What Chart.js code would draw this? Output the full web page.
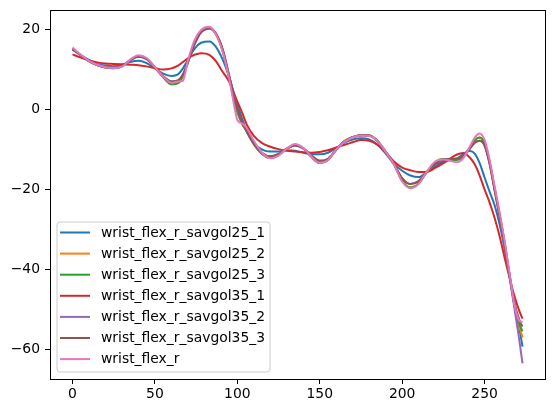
<!DOCTYPE html>
<html>
<head>
<meta charset="utf-8">
<script src="https://cdn.jsdelivr.net/npm/chart.js@4.4.1/dist/chart.umd.min.js"></script>
<style>
  html, body { margin: 0; padding: 0; background: #fff; }
  #wrap { width: 554px; height: 413px; position: relative; }
</style>
</head>
<body>
<div id="wrap"><canvas id="myChart"></canvas></div>
<script>
// sample positions (frame index)
const frames = [0, 5, 10, 15, 20, 25, 30, 35, 40, 45, 50, 55, 60, 64, 67, 70, 74, 78, 83, 87, 91, 95, 98, 100, 103, 106,
  110, 115, 120, 125, 130, 135, 140, 145, 150, 155, 160, 165, 170, 175, 180, 185, 190, 195, 200, 205, 210, 215, 220,
  225, 230, 233, 237, 241, 244, 247, 250, 253, 256, 259, 262, 265, 268, 271, 273];

const savgol25_1 = [15.0, 13.6, 12.4, 11.4, 11.0, 10.8, 11.2, 11.9, 12.2, 11.6, 10.3, 9.0, 8.4, 8.8, 10.3, 12.4, 15.2, 16.7, 17.0, 15.7, 12.6, 8.2, 4.0, 1.2, -2.4, -5.8,
  -8.4, -10.0, -10.5, -10.5, -10.2, -10.3, -10.8, -11.2, -11.2, -10.8, -9.6, -8.3, -7.5, -7.2, -7.5, -8.8, -11.0, -13.6, -15.3, -16.5, -16.9, -15.6, -14.2,
  -13.0, -12.6, -12.3, -11.2, -10.4, -11.0, -13.4, -17.0, -20.5, -23.8, -28.5, -34.5, -41.5, -48.5, -54.5, -59.3];

const savgol25_2 = [15.2, 13.6, 12.1, 11.1, 10.5, 10.3, 10.8, 12.4, 13.4, 12.7, 10.5, 8.1, 6.3, 6.6, 8.4, 11.8, 16.8, 19.6, 20.5, 18.9, 14.8, 8.0, 2.5, -0.6, -3.6, -5.6,
  -8.6, -11.1, -12.1, -11.4, -9.8, -8.8, -9.7, -11.9, -13.4, -12.6, -10.0, -7.9, -6.9, -6.4, -6.5, -7.8, -10.6, -13.7, -17.8, -19.5, -18.5, -15.6, -13.2,
  -12.4, -12.5, -12.6, -11.8, -9.6, -7.7, -7.0, -8.4, -13.0, -19.5, -26.0, -33.0, -41.0, -48.8, -54.0, -57.0];

const savgol25_3 = [15.3, 13.6, 12.1, 11.1, 10.5, 10.3, 10.8, 12.4, 13.4, 12.7, 10.5, 8.1, 6.3, 6.6, 8.4, 11.8, 16.8, 19.6, 20.5, 18.9, 14.8, 8.0, 2.5, -0.6, -3.6, -5.6,
  -8.6, -11.1, -12.1, -11.4, -9.8, -8.8, -9.7, -11.9, -13.4, -12.6, -10.0, -7.9, -6.9, -6.4, -6.5, -7.8, -10.6, -13.7, -17.8, -19.5, -18.5, -15.6, -13.2,
  -12.4, -12.5, -12.6, -11.8, -9.6, -7.7, -7.0, -8.4, -13.0, -19.5, -26.0, -33.0, -41.0, -48.5, -53.5, -55.5];

const savgol35_1 = [13.8, 13.0, 12.3, 11.8, 11.5, 11.4, 11.3, 11.2, 11.1, 10.8, 10.4, 10.0, 10.3, 11.0, 11.9, 12.8, 13.7, 14.1, 13.7, 12.1, 9.5, 7.0, 4.0, 2.0, -0.9, -4.0,
  -6.6, -8.4, -9.3, -9.9, -10.3, -10.5, -10.7, -10.8, -10.6, -10.2, -9.5, -8.8, -8.2, -7.6, -7.8, -8.8, -10.7, -13.0, -14.5, -15.2, -15.6, -15.6, -14.6,
  -13.4, -12.0, -11.3, -10.9, -12.0, -13.7, -16.5, -20.0, -23.2, -27.0, -31.5, -36.8, -41.8, -46.5, -50.3, -52.3];

const savgol35_2 = [15.2, 13.6, 12.1, 11.1, 10.6, 10.5, 10.9, 12.3, 13.2, 12.6, 10.6, 8.4, 7.0, 7.3, 8.8, 11.8, 16.3, 19.3, 20.3, 19.0, 15.2, 8.6, 3.3, 0.2, -3.2, -5.6,
  -8.6, -10.9, -11.7, -11.1, -9.8, -9.0, -9.7, -11.5, -12.8, -12.3, -10.1, -8.0, -6.9, -6.4, -6.5, -7.9, -10.6, -13.6, -17.2, -18.6, -17.9, -15.6, -13.6,
  -12.6, -12.3, -12.3, -11.5, -9.8, -8.3, -7.8, -9.0, -13.5, -20.0, -26.5, -33.5, -41.5, -49.5, -57.5, -63.5];

const savgol35_3 = [15.2, 13.6, 12.1, 11.1, 10.6, 10.5, 10.9, 12.3, 13.2, 12.6, 10.6, 8.4, 7.0, 7.3, 8.8, 11.8, 16.3, 19.3, 20.3, 19.0, 15.2, 8.6, 3.3, 0.2, -3.2, -5.6,
  -8.6, -10.9, -11.7, -11.1, -9.8, -9.0, -9.7, -11.5, -12.8, -12.3, -10.1, -8.0, -6.9, -6.4, -6.5, -7.9, -10.6, -13.6, -17.2, -18.6, -17.9, -15.6, -13.6,
  -12.6, -12.3, -12.3, -11.5, -9.8, -8.3, -7.8, -9.0, -13.5, -20.0, -26.5, -33.5, -41.0, -48.0, -52.5, -54.3];

const raw = [15.5, 13.7, 12.2, 11.2, 10.6, 10.4, 10.7, 12.5, 13.6, 12.9, 10.6, 8.3, 6.7, 7.0, 7.2, 12.2, 17.3, 19.9, 20.7, 18.8, 14.6, 7.8, 1.2, -2.6, -3.5, -4.8,
  -7.8, -10.8, -12.2, -11.5, -9.8, -8.6, -9.6, -11.8, -13.4, -12.6, -10.0, -8.1, -7.0, -6.5, -6.6, -7.8, -10.6, -13.7, -18.0, -19.7, -18.6, -15.5, -13.0,
  -12.5, -12.9, -13.2, -12.2, -9.3, -7.0, -6.0, -7.6, -12.5, -19.0, -25.5, -32.5, -40.5, -48.5, -52.8, -53.2];

const labels = ['wrist_flex_r_savgol25_1', 'wrist_flex_r_savgol25_2', 'wrist_flex_r_savgol25_3',
  'wrist_flex_r_savgol35_1', 'wrist_flex_r_savgol35_2', 'wrist_flex_r_savgol35_3', 'wrist_flex_r'];
const series = [savgol25_1, savgol25_2, savgol25_3, savgol35_1, savgol35_2, savgol35_3, raw];
const colors = ['#1f77b4', '#ff7f0e', '#2ca02c', '#d62728', '#9467bd', '#8c564b', '#e377c2'];

const xTicks = [0, 50, 100, 150, 200, 250];
const yTicks = [-60, -40, -20, 0, 20];

const FONT = 'DejaVu Sans';
const FSIZE = 13.9;

const datasets = series.map((vals, i) => ({
  label: labels[i],
  data: vals.map((v, j) => ({ x: frames[j], y: v })),
  borderColor: colors[i],
  backgroundColor: colors[i],
  borderWidth: 2,
  pointRadius: 0,
  cubicInterpolationMode: 'monotone',
  fill: false,
  order: series.length - i
}));

// frame + legend box like matplotlib
const framePlugin = {
  id: 'framePlugin',
  afterDraw(chart) {
    const ctx = chart.ctx;
    const a = chart.chartArea;
    ctx.save();
    ctx.strokeStyle = '#000';
    ctx.lineWidth = 1;
    ctx.strokeRect(Math.round(a.left) + 0.5, Math.round(a.top) + 0.5,
      Math.round(a.right - a.left), Math.round(a.bottom - a.top));

    // legend
    const bx = 57, by = 222, bw = 213, bh = 150, r = 3;
    ctx.beginPath();
    ctx.moveTo(bx + r, by);
    ctx.arcTo(bx + bw, by, bx + bw, by + bh, r);
    ctx.arcTo(bx + bw, by + bh, bx, by + bh, r);
    ctx.arcTo(bx, by + bh, bx, by, r);
    ctx.arcTo(bx, by, bx + bw, by, r);
    ctx.closePath();
    ctx.fillStyle = 'rgba(255,255,255,0.8)';
    ctx.fill();
    ctx.strokeStyle = '#cccccc';
    ctx.lineWidth = 1;
    ctx.stroke();

    ctx.font = FSIZE + 'px "' + FONT + '"';
    ctx.textBaseline = 'middle';
    ctx.textAlign = 'left';
    labels.forEach((lab, i) => {
      const yy = 232.5 + i * 21.1;
      ctx.strokeStyle = colors[i];
      ctx.lineWidth = 2;
      ctx.beginPath();
      ctx.moveTo(60, yy);
      ctx.lineTo(90, yy);
      ctx.stroke();
      ctx.fillStyle = '#000';
      ctx.fillText(lab, 101, yy + 0.5);
    });
    ctx.restore();
  }
};

const config = {
  type: 'line',
  data: { datasets },
  options: {
    responsive: true,
    maintainAspectRatio: false,
    animation: false,
    layout: { padding: { top: 10, right: 9, left: 0, bottom: 0 } },
    plugins: {
      legend: { display: false },
      tooltip: { enabled: false }
    },
    scales: {
      x: {
        type: 'linear',
        min: -13.65,
        max: 286.65,
        afterBuildTicks: (s) => { s.ticks = xTicks.map(v => ({ value: v })); },
        afterFit: (s) => { s.height = 34; s.paddingLeft = 0; s.paddingRight = 0; },
        grid: { drawOnChartArea: false, tickLength: 5, color: '#000', lineWidth: 1 },
        border: { display: false },
        ticks: { color: '#000', font: { family: FONT, size: FSIZE }, padding: 2, maxRotation: 0 }
      },
      y: {
        type: 'linear',
        min: -67.4,
        max: 24.9,
        afterBuildTicks: (s) => { s.ticks = yTicks.map(v => ({ value: v })); },
        afterFit: (s) => { s.width = 50; s.paddingTop = 0; s.paddingBottom = 0; },
        grid: { drawOnChartArea: false, tickLength: 5, color: '#000', lineWidth: 1 },
        border: { display: false },
        ticks: {
          color: '#000', font: { family: FONT, size: FSIZE }, padding: 5,
          callback: (v) => String(v).replace('-', '\u2212')
        }
      }
    }
  },
  plugins: [framePlugin]
};

const myChart = new Chart(document.getElementById('myChart'), config);
</script>
</body>
</html>
